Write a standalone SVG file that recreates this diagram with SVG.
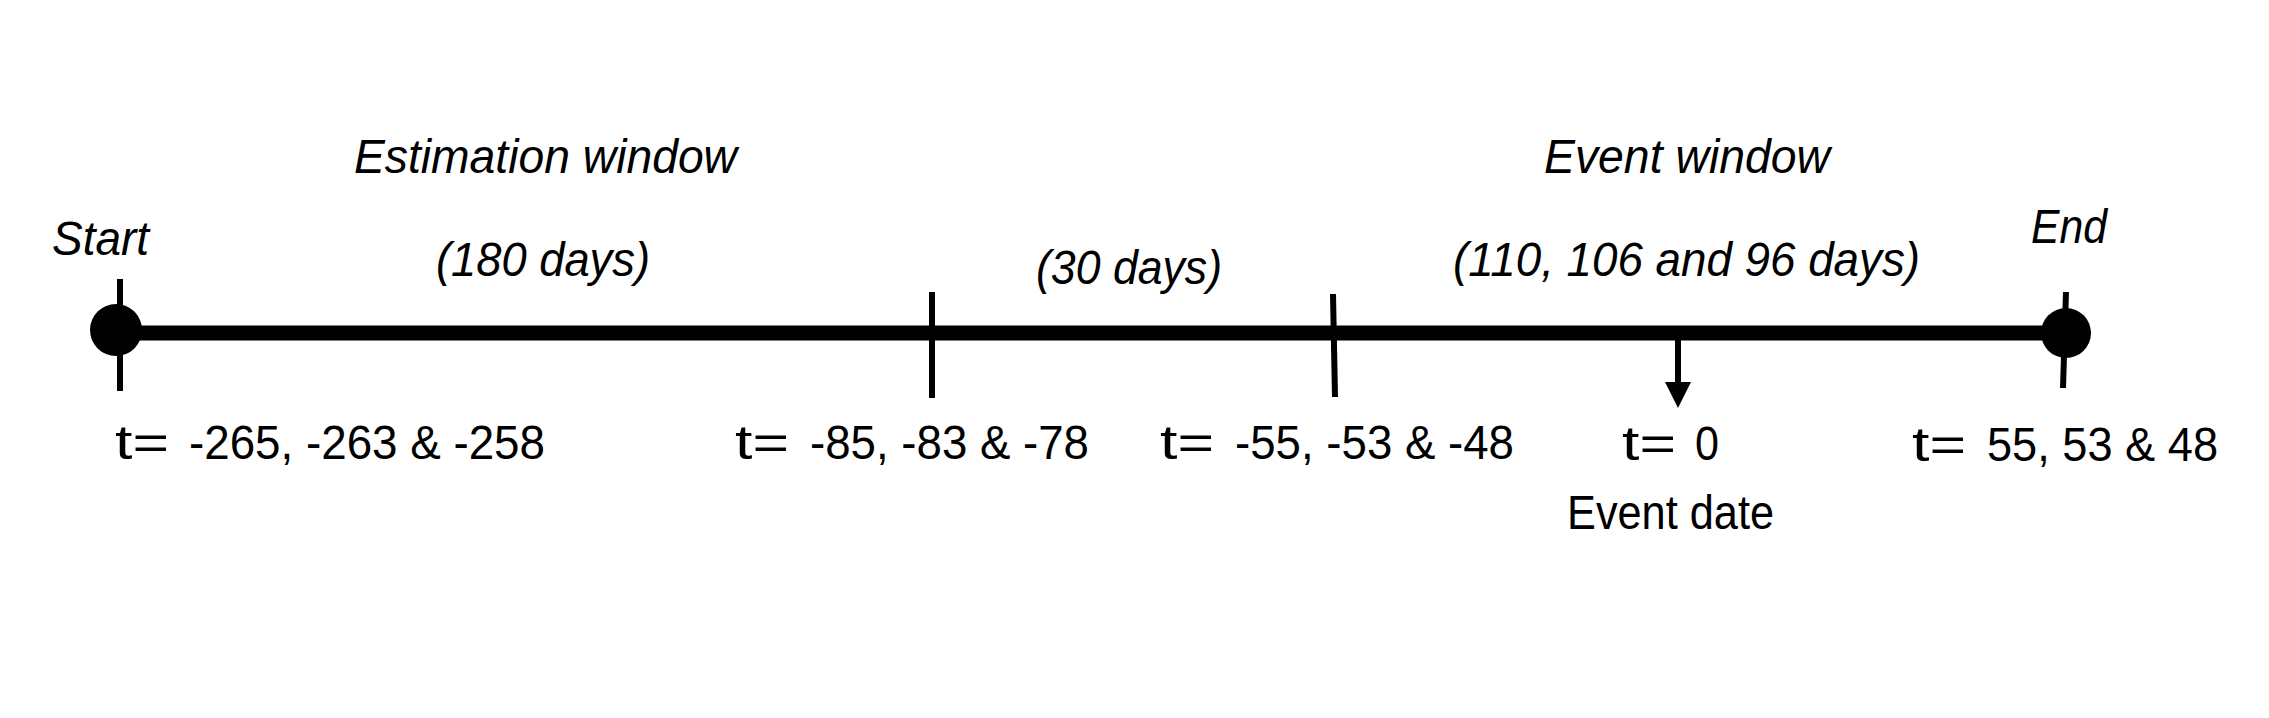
<svg xmlns="http://www.w3.org/2000/svg" width="2269" height="718" viewBox="0 0 2269 718">
<style>
text{font-family:"Liberation Sans",Arial,sans-serif;font-size:48px;fill:#000}
.it{font-style:italic}
.tick{stroke:#000;stroke-width:6;fill:none}
.axis{stroke:#000;stroke-width:15;fill:none}
.arr{stroke:#000;stroke-width:6;fill:none}
</style>
<defs>
<marker id="ah" markerWidth="26" markerHeight="26" viewBox="0 0 26 26" refX="13" refY="26" markerUnits="userSpaceOnUse" orient="auto-start-reverse">
<path d="M0,0 L26,0 L13,26 Z" fill="#000"/>
</marker>
</defs>
<rect width="2269" height="718" fill="#fff"/>
<g id="connectors">
<line class="axis" x1="116" y1="333" x2="2066" y2="333"/>
<line class="arr" x1="1678" y1="340" x2="1678" y2="384"/>
<path d="M1665,382 L1691,382 L1678,408 Z" fill="#000"/>
</g>
<g id="window-labels">
<text class="it" x="354" y="173" textLength="383" lengthAdjust="spacingAndGlyphs">Estimation window</text>
<text class="it" x="436" y="276" textLength="214" lengthAdjust="spacingAndGlyphs">(180 days)</text>
<text class="it" x="1036" y="284" textLength="186" lengthAdjust="spacingAndGlyphs">(30 days)</text>
<text class="it" x="1544" y="173" textLength="286" lengthAdjust="spacingAndGlyphs">Event window</text>
<text class="it" x="1453" y="276" textLength="467" lengthAdjust="spacingAndGlyphs">(110, 106 and 96 days)</text>
</g>
<g id="start">
<line class="tick" x1="120" y1="279" x2="120" y2="391"/>
<circle cx="116" cy="330" r="26" fill="#000"/>
<text class="it" x="52" y="255" textLength="97" lengthAdjust="spacingAndGlyphs">Start</text>
<text x="115" y="459" textLength="54" lengthAdjust="spacingAndGlyphs">t=</text>
<text x="189" y="459" textLength="356" lengthAdjust="spacingAndGlyphs">-265, -263 &amp; -258</text>
</g>
<g id="tick-85">
<line class="tick" x1="932" y1="292" x2="932" y2="398"/>
<text x="735" y="459" textLength="54" lengthAdjust="spacingAndGlyphs">t=</text>
<text x="810" y="459" textLength="279" lengthAdjust="spacingAndGlyphs">-85, -83 &amp; -78</text>
</g>
<g id="tick-55">
<line class="tick" x1="1333" y1="294" x2="1335" y2="397"/>
<text x="1160" y="459" textLength="54" lengthAdjust="spacingAndGlyphs">t=</text>
<text x="1235" y="459" textLength="279" lengthAdjust="spacingAndGlyphs">-55, -53 &amp; -48</text>
</g>
<g id="event-date">
<text x="1622" y="460" textLength="54" lengthAdjust="spacingAndGlyphs">t=</text>
<text x="1695" y="460" textLength="24" lengthAdjust="spacingAndGlyphs">0</text>
<text x="1567" y="529" textLength="207" lengthAdjust="spacingAndGlyphs">Event date</text>
</g>
<g id="end">
<line class="tick" x1="2066" y1="292" x2="2063" y2="388"/>
<circle cx="2066" cy="333" r="25" fill="#000"/>
<text class="it" x="2031" y="243" textLength="76" lengthAdjust="spacingAndGlyphs">End</text>
<text x="1912" y="461" textLength="54" lengthAdjust="spacingAndGlyphs">t=</text>
<text x="1987" y="461" textLength="231" lengthAdjust="spacingAndGlyphs">55, 53 &amp; 48</text>
</g>
</svg>
